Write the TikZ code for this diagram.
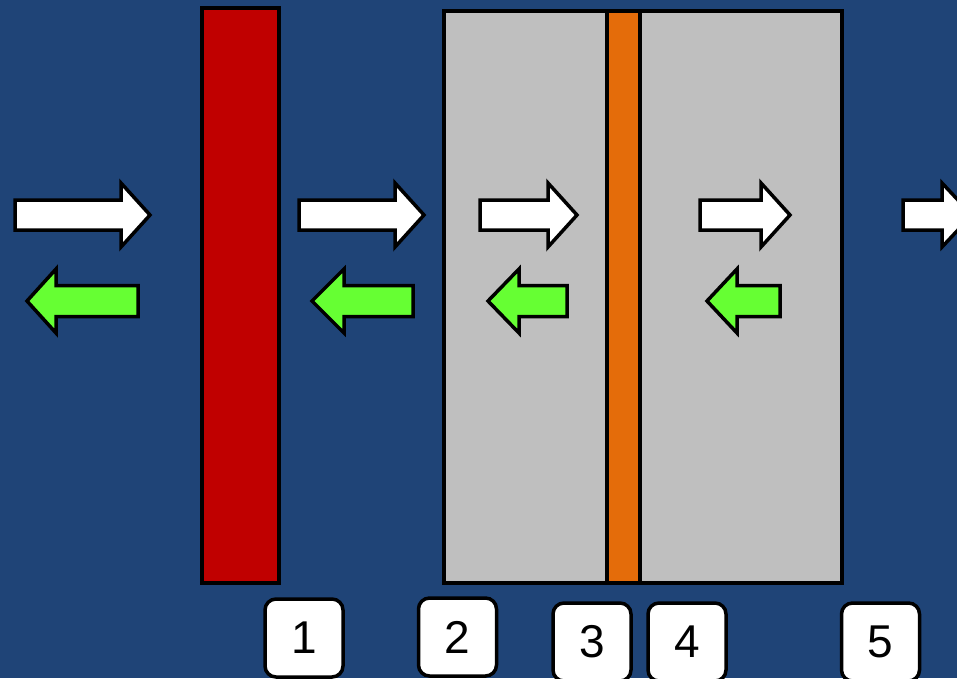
\documentclass[tikz,border=0pt]{standalone}
\usepackage{fontspec}
\setmainfont{Liberation Sans}
\definecolor{bgblue}{RGB}{31,68,119}
\definecolor{barred}{RGB}{192,0,0}
\definecolor{slabgray}{RGB}{191,191,191}
\definecolor{filmorange}{RGB}{228,108,10}
\definecolor{backgreen}{RGB}{102,255,51}
\tikzset{
  outline/.style={draw=black, line width=3.5pt, line join=miter},
  fwd/.style={outline, fill=white},
  back/.style={outline, fill=backgreen},
  numbox/.style={draw=black, line width=3.5pt, fill=white, rounded corners=11pt,
    minimum width=78pt, minimum height=78pt, inner sep=0pt,
    font=\fontsize{46}{46}\selectfont}
}
% right-pointing block arrow: left end, head base, tip, centre line
\newcommand\blockArrowR[5][fwd]{%
  \draw[#1] (#2,#5-15) -- (#3,#5-15) -- (#3,#5-32) -- (#4,#5)
    -- (#3,#5+32) -- (#3,#5+15) -- (#2,#5+15) -- cycle;}
% left-pointing block arrow: right end, head base, tip, centre line
\newcommand\blockArrowL[5][back]{%
  \draw[#1] (#2,#5-15.5) -- (#3,#5-15.5) -- (#3,#5-32) -- (#4,#5)
    -- (#3,#5+32) -- (#3,#5+15.5) -- (#2,#5+15.5) -- cycle;}
\begin{document}
\begin{tikzpicture}[x=1pt,y=-1pt]
  \fill[bgblue] (0,0) rectangle (957,678);
  \useasboundingbox (0,0) rectangle (957,678);
  \clip (0,0) rectangle (957,678);

  % absorbing layer
  \draw[outline, fill=barred] (202,8) rectangle (279,583);
  % slab with thin interlayer
  \draw[outline, fill=slabgray] (444,11) rectangle (842,583);
  \draw[outline, fill=filmorange] (607,11) rectangle (640,583);

  % forward waves
  \blockArrowR{15}{121}{150}{215}
  \blockArrowR{299}{395}{424}{215}
  \blockArrowR{480}{548}{577}{215}
  \blockArrowR{700}{761}{790}{215}
  \blockArrowR{903}{942}{972}{215}

  % reflected waves
  \blockArrowL{138}{56}{27}{301}
  \blockArrowL{413}{344}{312}{301}
  \blockArrowL{567}{519}{488}{301}
  \blockArrowL{780}{737}{707}{301}

  % interface labels
  \node[numbox] (n1) at (304,638) {1};
  \node[numbox] (n2) at (457.5,637) {2};
  \node[numbox] (n3) at (592,642) {3};
  \node[numbox] (n4) at (687,642) {4};
  \node[numbox] (n5) at (880.5,642) {5};
\end{tikzpicture}
\end{document}
